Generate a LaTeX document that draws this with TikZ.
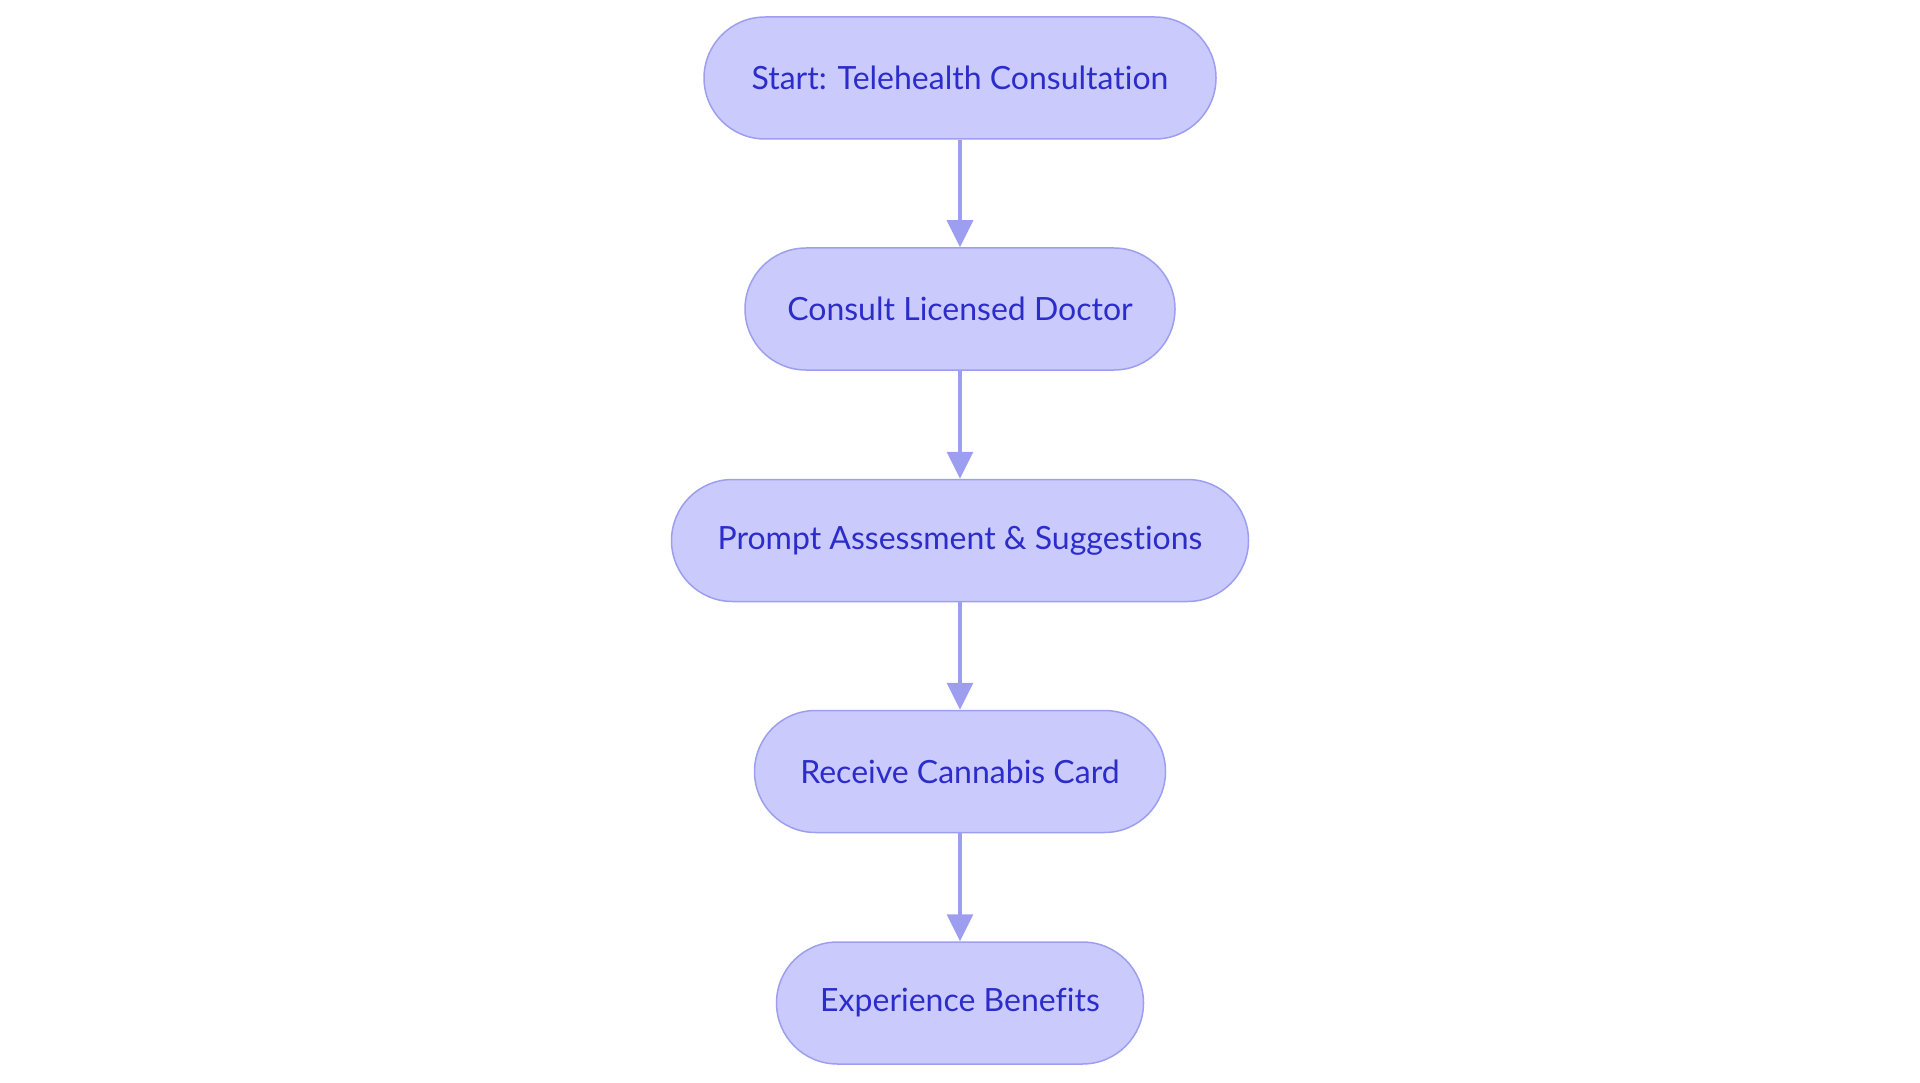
\documentclass[tikz,border=0pt]{standalone}
\usepackage{fontspec}
\setmainfont{Lato}[Ligatures={NoCommon}]
\usetikzlibrary{arrows.meta}
\definecolor{nodefill}{HTML}{CACBFC}
\definecolor{nodedraw}{HTML}{9D9EF0}
\definecolor{nodetext}{HTML}{2C2CCB}
\definecolor{arrowcol}{HTML}{9D9EF0}
\tikzset{
  stadium/.style={draw=nodedraw, fill=nodefill, line width=1.5pt, rounded corners=61pt,
    minimum height=122pt, inner sep=0pt, text=nodetext,
    font=\fontsize{32}{38}\selectfont},
  flow/.style={draw=arrowcol, line width=3.5pt, -{Triangle[width=26pt,length=27pt]}}
}
\begin{document}
\begin{tikzpicture}[x=1pt,y=-1pt]
\useasboundingbox (0,0) rectangle (1920,1083);
\node[stadium, minimum width=512pt] (a) at (960,78) {Start: Telehealth Consultation};
\node[stadium, minimum width=430pt] (b) at (960,309) {Consult Licensed Doctor};
\node[stadium, minimum width=577pt] (c) at (960,540.5) {Prompt Assessment \& Suggestions};
\node[stadium, minimum width=411pt] (d) at (960,771.5) {Receive Cannabis Card};
\node[stadium, minimum width=367pt] (e) at (960,1003) {Experience Benefits};
\draw[flow] (a) -- (b);
\draw[flow] (b) -- (c);
\draw[flow] (c) -- (d);
\draw[flow] (d) -- (e);
\end{tikzpicture}
\end{document}
